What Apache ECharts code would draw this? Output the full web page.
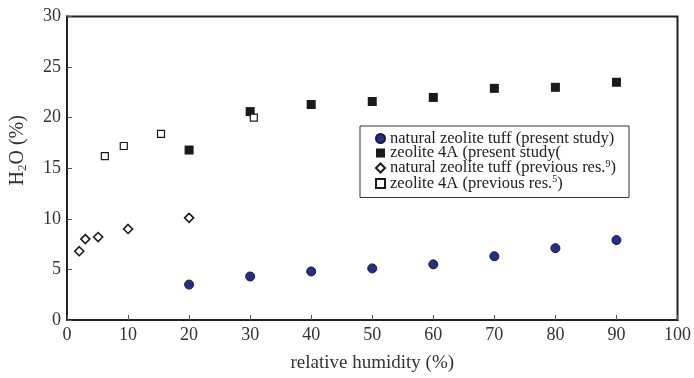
<!DOCTYPE html>
<html>
<head>
<meta charset="utf-8">
<script src="https://cdn.jsdelivr.net/npm/echarts@6/dist/echarts.min.js"></script>
<style>
  html, body { margin: 0; padding: 0; background: #fff; }
  #chart { width: 694px; height: 378px; }
</style>
</head>
<body>
<div id="chart"></div>
<script>
// Water uptake (H2O %) versus relative humidity (%)
const tuffPresentRH = [20, 30, 40, 50, 60, 70, 80, 90];
const tuffPresentH2O = [3.5, 4.3, 4.8, 5.1, 5.5, 6.3, 7.1, 7.9];

const z4aPresentRH = [20, 30, 40, 50, 60, 70, 80, 90];
const z4aPresentH2O = [16.8, 20.6, 21.3, 21.6, 22.0, 22.9, 23.0, 23.5];

const tuffPrevRH = [2.0, 3.0, 5.1, 10.0, 20.0];
const tuffPrevH2O = [6.8, 8.0, 8.2, 9.0, 10.1];

const z4aPrevRH = [6.2, 9.3, 15.4, 30.6];
const z4aPrevH2O = [16.2, 17.2, 18.4, 20.0];

const xTicks = [0, 10, 20, 30, 40, 50, 60, 70, 80, 90, 100];
const yTicks = [0, 5, 10, 15, 20, 25, 30];

const seriesNames = [
  'natural zeolite tuff (present study)',
  'zeolite 4A (present study(',
  'natural zeolite tuff (previous res.9)',
  'zeolite 4A (previous res.5)'
];
// superscripted reference numbers shown in the legend
const legendText = {
  [seriesNames[0]]: 'natural zeolite tuff (present study)',
  [seriesNames[1]]: 'zeolite 4A (present study(',
  [seriesNames[2]]: 'natural zeolite tuff (previous res.{sup|9})',
  [seriesNames[3]]: 'zeolite 4A (previous res.{sup|5})'
};

const pairs = (xs, ys) => xs.map((x, i) => [x, ys[i]]);
const serif = '"Liberation Serif", "DejaVu Serif", serif';

const chart = echarts.init(document.getElementById('chart'));
chart.setOption({
  animation: false,
  backgroundColor: '#fff',
  grid: {
    left: 64, right: 14, top: 16.5, bottom: 54,
    show: true, borderColor: '#222', borderWidth: 2
  },
  xAxis: {
    type: 'value', min: 0, max: 100, interval: 10,
    name: 'relative humidity (%)', nameLocation: 'middle', nameGap: 34,
    nameTextStyle: { fontFamily: serif, fontSize: 19, color: '#333' },
    axisLine: { show: true, lineStyle: { color: '#222', width: 2 } },
    axisTick: { show: true, inside: true, length: 5, lineStyle: { color: '#555', width: 1 } },
    axisLabel: { fontFamily: serif, fontSize: 18, color: '#333', margin: 6 },
    splitLine: { show: false }
  },
  yAxis: {
    type: 'value', min: 0, max: 30, interval: 5,
    name: 'H{sub|2}O (%)', nameLocation: 'middle', nameGap: 38, nameRotate: 90,
    nameTextStyle: {
      fontFamily: serif, fontSize: 20, color: '#333',
      padding: [0, 0, 0, 36],
      rich: {
        sub: { fontFamily: serif, fontSize: 13, color: '#333', padding: [9, 0, 0, 0] }
      }
    },
    axisLine: { show: true, lineStyle: { color: '#222', width: 2 } },
    axisTick: { show: true, inside: true, length: 5, lineStyle: { color: '#555', width: 1 } },
    axisLabel: { fontFamily: serif, fontSize: 18, color: '#333', margin: 6 },
    splitLine: { show: false }
  },
  legend: {
    orient: 'vertical', left: 360, top: 126,
    padding: [4, 13, 5, 15],
    itemGap: -2.5, itemWidth: 9, itemHeight: 9,
    borderColor: '#333', borderWidth: 1,
    backgroundColor: '#fff',
    data: seriesNames,
    formatter: name => legendText[name],
    textStyle: {
      fontFamily: serif, fontSize: 16.5, lineHeight: 14.5, color: '#222',
      rich: { sup: { fontFamily: serif, fontSize: 10, lineHeight: 10, color: '#222', padding: [0, 0, 8, 0] } }
    }
  },
  series: [
    {
      name: seriesNames[0], type: 'scatter', symbol: 'circle', symbolSize: 9,
      data: pairs(tuffPresentRH, tuffPresentH2O),
      itemStyle: { color: '#27307f', borderColor: '#151a4a', borderWidth: 1, opacity: 1 }
    },
    {
      name: seriesNames[1], type: 'scatter', symbol: 'rect', symbolSize: 9,
      data: pairs(z4aPresentRH, z4aPresentH2O),
      itemStyle: { color: '#1a1a1a', opacity: 1 }
    },
    {
      name: seriesNames[2], type: 'scatter', symbol: 'diamond', symbolSize: [9, 9],
      data: pairs(tuffPrevRH, tuffPrevH2O),
      itemStyle: { color: '#fff', borderColor: '#1a1a1a', borderWidth: 1.6, opacity: 1 }
    },
    {
      name: seriesNames[3], type: 'scatter', symbol: 'rect', symbolSize: 7,
      data: pairs(z4aPrevRH, z4aPrevH2O),
      itemStyle: { color: '#fff', borderColor: '#1a1a1a', borderWidth: 1.2, opacity: 1 }
    }
  ]
});
</script>
</body>
</html>
